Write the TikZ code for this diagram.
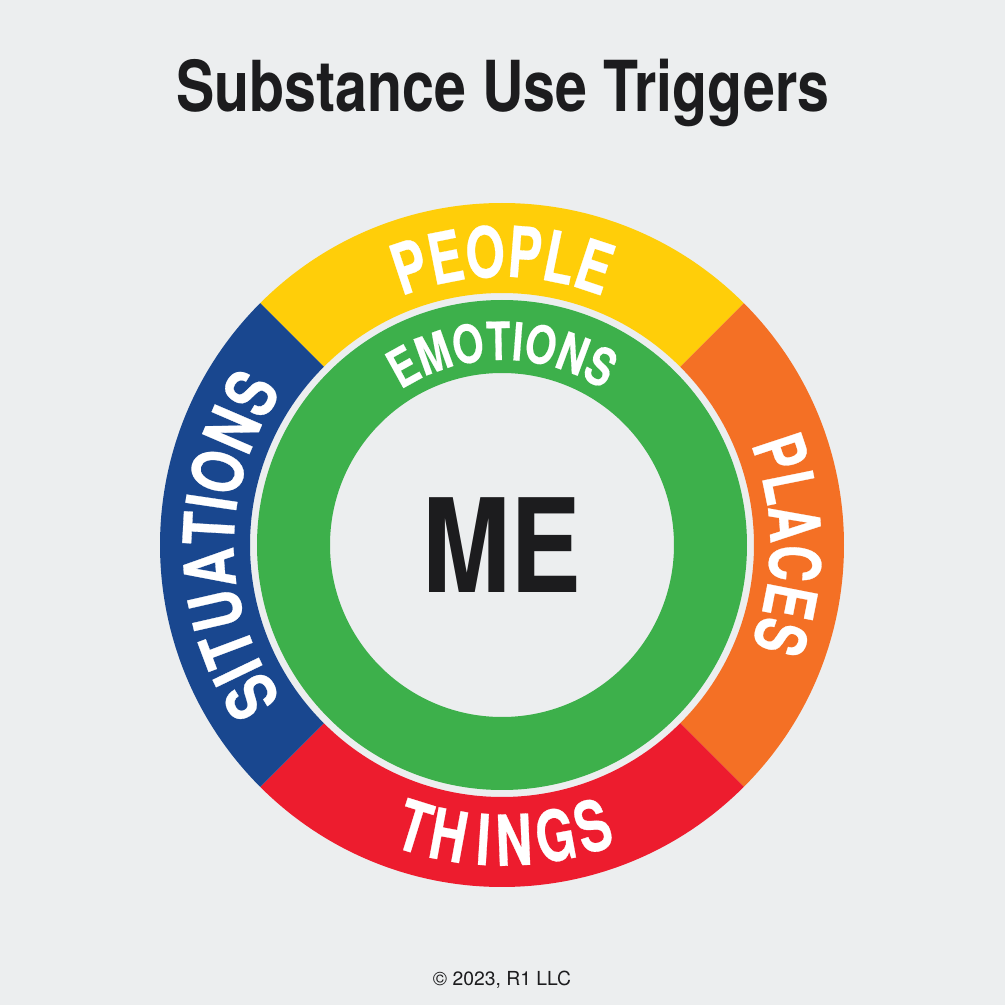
\documentclass[tikz,border=0pt]{standalone}
\usepackage{fontspec}
\setmainfont{TeX Gyre Heros}
\newfontfamily\narrowfont[FakeStretch=0.815]{TeX Gyre Heros}
\newfontfamily\ringnarrow[FakeStretch=0.72,BoldFeatures={FakeBold=0.4}]{TeX Gyre Heros}
\newfontfamily\sitnarrow[FakeStretch=0.77,BoldFeatures={FakeBold=0.4}]{TeX Gyre Heros}
\newfontfamily\emonarrow[FakeStretch=0.76,BoldFeatures={FakeBold=0.3}]{TeX Gyre Heros}
\usetikzlibrary{decorations.text}
\definecolor{pagegray}{HTML}{ECEEEF}
\definecolor{inkblack}{HTML}{1C1C1E}
\definecolor{peopleyellow}{HTML}{FFCE09}
\definecolor{placesorange}{HTML}{F47025}
\definecolor{thingsred}{HTML}{ED1C2E}
\definecolor{situationsblue}{HTML}{19478F}
\definecolor{emotionsgreen}{HTML}{3DB04B}
\newcommand{\ringfont}{\ringnarrow\bfseries\fontsize{20}{20}\selectfont}
\newcommand{\sitfont}{\sitnarrow\bfseries\fontsize{20}{20}\selectfont}
\newcommand{\emofont}{\emonarrow\bfseries\fontsize{15}{15}\selectfont}
\tikzset{
  arclabel/.style={decorate,decoration={text along path,text align=center,text color=white,text={#1}}},
}
\begin{document}
\begin{tikzpicture}[x=0.01cm,y=0.01cm]
\fill[pagegray] (0,0) rectangle (1005,1005);
\useasboundingbox (0,0) rectangle (1005,1005);
\coordinate (c) at (502,460);

\fill[peopleyellow] ([shift={(135:342)}]c) arc (135:45:342) -- ([shift={(45:252)}]c) arc (45:135:252) -- cycle;
\fill[placesorange] ([shift={(45:342)}]c) arc (45:-45:342) -- ([shift={(-45:252)}]c) arc (-45:45:252) -- cycle;
\fill[thingsred] ([shift={(-45:342)}]c) arc (-45:-135:342) -- ([shift={(-135:252)}]c) arc (-135:-45:252) -- cycle;
\fill[situationsblue] ([shift={(225:342)}]c) arc (225:135:342) -- ([shift={(135:252)}]c) arc (135:225:252) -- cycle;
\fill[emotionsgreen,even odd rule] (c) circle (245) (c) circle (172);

\path[arclabel={|\ringfont|PEOPLE}] ([shift={(150:268)}]c) arc (150:30:268);
\path[arclabel={|\ringfont|PLACES}] ([shift={(60:268)}]c) arc (60:-60:268);
\path[arclabel={|\sitfont|SITUATIONS}] ([shift={(240:268)}]c) arc (240:120:268);
\path[arclabel={|\emofont|EMOTIONS}] ([shift={(150:185)}]c) arc (150:30:185);

\foreach \ch/\ang in {T/-17.3,H/-10.4,I/-3.6,N/2.3,G/10.4,S/17.9} {
\node (thing\ch) at ([shift={(270+\ang:295)}]c) [rotate=\ang,text=white,font=\ringfont,inner sep=0pt] {\ch};
}

\node (title) at (503,912) [text=inkblack,font=\narrowfont\bfseries\fontsize{20}{20}\selectfont] {Substance Use Triggers};
\node (me) at (c) [text=inkblack,font=\narrowfont\bfseries\fontsize{37}{37}\selectfont] {ME};
\node (copy) at (502,25) [text=inkblack,font=\fontsize{5.5}{6}\selectfont] {© 2023, R1 LLC};
\end{tikzpicture}
\end{document}
